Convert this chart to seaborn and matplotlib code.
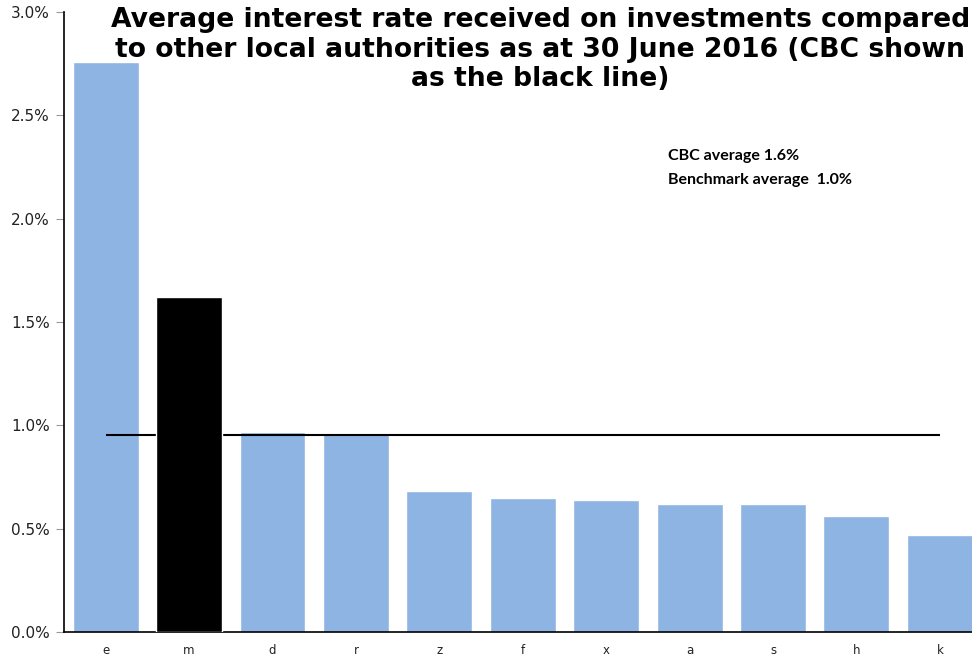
import numpy as np
import pandas as pd
import matplotlib
matplotlib.use("Agg")
import matplotlib.pyplot as plt
import seaborn as sns
from matplotlib.ticker import FuncFormatter

authorities = ['e', 'm', 'd', 'r', 'z', 'f', 'x', 'a', 's', 'h', 'k']
rates = [2.76, 1.62, 0.97, 0.96, 0.68, 0.65, 0.64, 0.62, 0.62, 0.56, 0.47]
benchmark = 0.955
cbc = 'm'

df = pd.DataFrame({'authority': authorities, 'rate': rates})
palette = {a: ('black' if a == cbc else '#8EB4E3') for a in authorities}

sns.set_style('white')
plt.rcParams['font.family'] = ['DejaVu Sans']
plt.rcParams['text.color'] = 'black'

fig = plt.figure(figsize=(9.72, 6.58), dpi=100)
ax = fig.add_axes([0.0658, 0.0395, 0.944, 0.9422])

sns.barplot(data=df, x='authority', y='rate', hue='authority', palette=palette,
            legend=False, width=0.79, saturation=1, ax=ax)
# black bar sits above the benchmark line, blue ones below it
for patch, a in zip(ax.patches, authorities):
    patch.set_zorder(3 if a == cbc else 1)
ax.hlines(benchmark, 0, len(authorities) - 1, color='black', lw=1.5, zorder=2)

ax.set_xlim(-0.5, len(authorities) - 0.5)
ax.set_ylim(0, 3.0)
ax.set_yticks(np.arange(0, 3.01, 0.5))
ax.yaxis.set_major_formatter(FuncFormatter(lambda v, p: f'{v:.1f}%'))
ax.set_xlabel('')
ax.set_ylabel('')
ax.tick_params(axis='y', left=True, length=6, color='#999999', labelsize=11,
               labelcolor='#222222', pad=4)
ax.tick_params(axis='x', bottom=False, labelsize=8.5, labelcolor='#222222', pad=5)
for s in ['top', 'right']:
    ax.spines[s].set_visible(False)
for s in ['left', 'bottom']:
    ax.spines[s].set_color('black')
    ax.spines[s].set_linewidth(1.2)

fig.text(0.556, 0.989,
         'Average interest rate received on investments compared\n'
         'to other local authorities as at 30 June 2016 (CBC shown\n'
         'as the black line)',
         ha='center', va='top', fontsize=19.2, fontweight='bold', linespacing=1.17)

fig.text(0.687, 0.745, 'CBC average 1.6%\nBenchmark average  1.0%',
         ha='left', va='center', fontsize=11.5, fontweight='bold',
         family=['Lato', 'DejaVu Sans'], linespacing=1.95)

fig.savefig('out.png', dpi=100)
